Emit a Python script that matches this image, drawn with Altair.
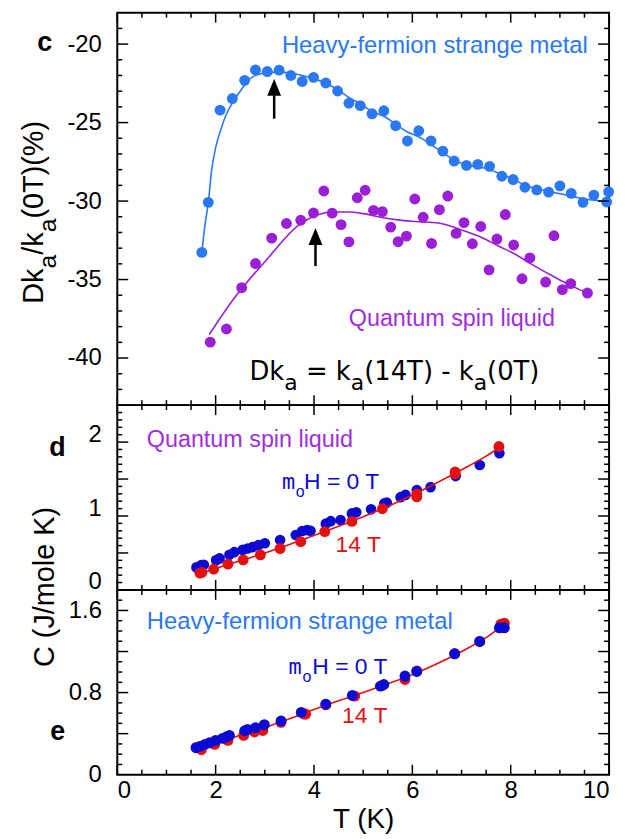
import altair as alt
import pandas as pd

FONT = "Liberation Sans"
WIDE = "DejaVu Sans"
MONO = "DejaVu Sans Mono"

# ---------------- data ----------------
# panel c : heavy-fermion strange metal (points)
c_hf_x = [1.72, 1.85, 2.09, 2.34, 2.59, 2.81, 3.05, 3.29, 3.53, 3.76, 3.99, 4.24, 4.48, 4.71, 4.94, 5.18,
          5.42, 5.66, 5.90, 6.13, 6.38, 6.62, 6.85, 7.10, 7.33, 7.57, 7.82, 8.05, 8.29, 8.53, 8.77, 9.00,
          9.23, 9.47, 9.69, 9.95, 9.99]
c_hf_y = [-33.27, -30.08, -24.21, -23.47, -22.31, -21.64, -21.75, -21.66, -22.0, -22.38, -22.12, -22.48,
          -22.99, -23.77, -23.92, -24.44, -24.25, -25.2, -26.17, -25.52, -26.17, -26.82, -27.45, -27.73,
          -27.66, -27.79, -28.42, -28.63, -29.12, -29.29, -29.43, -29.03, -29.51, -30.08, -29.62, -30.06,
          -29.41]
# panel c : heavy-fermion smooth curve
c_hf_line_x = [1.72, 1.78, 1.85, 1.92, 2.0, 2.1, 2.2, 2.35, 2.5, 2.7, 2.9, 3.1, 3.4, 3.7, 4.0, 4.24, 4.48,
               4.71, 4.94, 5.18, 5.42, 5.66, 5.9, 6.13, 6.38, 6.62, 6.85, 7.1, 7.46, 7.82, 8.05, 8.29, 8.53,
               8.8, 9.1, 9.4, 9.7, 9.95]
c_hf_line_y = [-33.3, -31.6, -30.1, -28.0, -26.6, -25.5, -24.6, -23.7, -23.0, -22.2, -21.9, -21.8, -21.8,
               -21.95, -22.2, -22.5, -22.9, -23.4, -23.8, -24.3, -24.6, -25.1, -25.6, -25.9, -26.4, -26.9,
               -27.4, -27.7, -27.9, -28.3, -28.6, -29.0, -29.2, -29.4, -29.6, -29.8, -29.95, -30.0]
# panel c : quantum spin liquid (points)
c_qsl_x = [1.89, 2.22, 2.53, 2.81, 3.14, 3.44, 3.73, 3.99, 4.20, 4.37, 4.55, 4.71, 4.88, 5.04, 5.21, 5.39,
           5.56, 5.71, 5.88, 6.05, 6.22, 6.39, 6.55, 6.72, 6.89, 7.05, 7.22, 7.39, 7.56, 7.72, 7.89, 8.06,
           8.23, 8.39, 8.71, 8.88, 9.05, 9.22, 9.56]
c_qsl_y = [-38.99, -38.15, -35.52, -33.98, -32.36, -31.43, -31.22, -30.76, -29.36, -30.77, -31.5, -32.6,
           -29.79, -29.31, -30.59, -30.67, -31.66, -32.59, -32.23, -29.87, -31.03, -32.7, -30.55, -29.68,
           -32.06, -31.37, -32.72, -31.62, -34.38, -32.42, -30.86, -32.8, -34.95, -33.62, -35.16, -32.21,
           -35.64, -35.26, -35.86]
c_qsl_line_x = [1.87, 2.35, 3.02, 3.7, 4.1, 4.37, 4.71, 5.0, 5.38, 5.7, 6.05, 6.53, 7.06, 7.4, 7.74, 8.1,
                8.41, 8.75, 9.08, 9.3, 9.56]
c_qsl_line_y = [-38.5, -36.3, -33.8, -31.5, -30.85, -30.7, -30.7, -30.8, -31.05, -31.2, -31.3, -31.4,
                -31.9, -32.3, -32.85, -33.4, -34.0, -34.6, -35.16, -35.5, -35.86]
# arrows in panel c
arrow_x = [3.19, 4.03]
arrow_tip = [-22.22, -31.72]
arrow_base = [-23.27, -32.66]
arrow_tail = [-24.75, -34.14]

# panel d : quantum spin liquid specific heat
d_0T_x = [1.61, 1.71, 1.76, 2.01, 2.08, 2.28, 2.38, 2.55, 2.65, 2.75, 2.87, 3.0, 3.31, 3.63, 3.76, 3.86,
          3.93, 4.24, 4.34, 4.54, 4.77, 4.86, 5.16, 5.43, 5.48, 5.76, 5.86, 6.09, 6.37, 6.88, 7.37, 7.77]
d_0T_y = [0.305, 0.336, 0.34, 0.403, 0.426, 0.475, 0.511, 0.542, 0.56, 0.578, 0.605, 0.632, 0.676, 0.743,
          0.797, 0.81, 0.80, 0.896, 0.93, 0.945, 1.035, 1.05, 1.09, 1.17, 1.18, 1.255, 1.286, 1.35, 1.39,
          1.54, 1.69, 1.85]
d_14T_x = [1.68, 1.72, 1.96, 2.25, 2.56, 2.91, 3.31, 3.73, 4.22, 4.77, 5.39, 6.09, 6.09, 6.87, 6.87, 7.76]
d_14T_y = [0.228, 0.237, 0.282, 0.349, 0.407, 0.475, 0.56, 0.654, 0.789, 0.927, 1.098, 1.30, 1.26, 1.595,
           1.57, 1.94]
d_line_x = [1.65, 2.0, 2.5, 3.0, 3.5, 4.0, 4.5, 5.0, 5.5, 6.0, 6.5, 7.0, 7.5, 7.78]
d_line_y = [0.215, 0.29, 0.395, 0.5, 0.615, 0.735, 0.86, 0.99, 1.13, 1.285, 1.45, 1.625, 1.81, 1.93]

# panel e : heavy-fermion strange metal specific heat
e_0T_x = [1.60, 1.68, 1.78, 1.88, 2.0, 2.14, 2.22, 2.28, 2.59, 2.65, 2.81, 2.99, 3.33, 3.74, 4.24, 4.78,
          5.35, 5.42, 5.85, 6.09, 6.86, 7.37, 7.77, 7.87]
e_0T_y = [0.263, 0.276, 0.295, 0.312, 0.334, 0.354, 0.37, 0.383, 0.428, 0.441, 0.458, 0.487, 0.523, 0.607,
          0.688, 0.772, 0.863, 0.879, 0.961, 1.006, 1.178, 1.298, 1.431, 1.431]
e_14T_x = [1.71, 1.98, 2.25, 2.57, 2.79, 2.96, 3.33, 3.80, 3.83, 4.24, 4.83, 5.39, 5.85, 6.09, 6.86, 7.37,
           7.80, 7.87]
e_14T_y = [0.243, 0.295, 0.334, 0.383, 0.416, 0.431, 0.51, 0.591, 0.591, 0.68, 0.766, 0.87, 0.928, 1.01,
           1.18, 1.298, 1.467, 1.476]
e_line_x = [1.62, 2.0, 2.5, 3.0, 3.5, 4.0, 4.5, 5.0, 5.5, 6.0, 6.5, 7.0, 7.5, 7.85]
e_line_y = [0.255, 0.31, 0.385, 0.46, 0.545, 0.635, 0.72, 0.80, 0.885, 0.975, 1.08, 1.2, 1.335, 1.46]

# axis ticks / labels
x_major = [0, 2, 4, 6, 8, 10]
x_minor = [0.5, 1, 1.5, 2.5, 3, 3.5, 4.5, 5, 5.5, 6.5, 7, 7.5, 8.5, 9, 9.5]
c_labels = [-40, -35, -30, -25, -20]
c_minor = [-42, -41, -39, -38, -37, -36, -34, -33, -32, -31, -29, -28, -27, -26, -24, -23, -22, -21, -19]
d_labels = [0, 1, 2]
d_major = [0.5, 1, 1.5, 2]
d_minor = [0.1, 0.2, 0.3, 0.4, 0.6, 0.7, 0.8, 0.9, 1.1, 1.2, 1.3, 1.4, 1.6, 1.7, 1.8, 1.9, 2.1, 2.2, 2.3, 2.4]
e_labels = [0, 0.8, 1.6]
e_major = [0.4, 0.8, 1.2, 1.6]
e_minor = [0.1, 0.2, 0.3, 0.5, 0.6, 0.7, 0.9, 1.0, 1.1, 1.3, 1.4, 1.5, 1.7]

# ---------------- styling ----------------
W = 495
HC, HD, HE = 395, 186, 186
X_DOM = [0, 10]
C_DOM = [-43, -18]
D_DOM = [0, 2.5]
E_DOM = [0, 1.8]

BLUE_C = "#2a78f4"
PURPLE = "#9a1fd6"
PURPLE_T = "#a02ee0"
DBLUE = "#0a0ad2"
RED = "#e2100f"
LAB = 24

one = pd.DataFrame({"k": [0]})

NO_AXIS = alt.Axis(labels=False, ticks=False, domain=False, grid=False, title=None)


def xs():
    return alt.Scale(domain=X_DOM, nice=False, zero=False)


def ys(dom):
    return alt.Scale(domain=dom, nice=False, zero=False)


def label(text, x, y, size, color="black", font=FONT, weight="normal", align="left", angle=0,
          baseline="alphabetic"):
    kw = dict(text=text, font=font, fontSize=size, color=color, fontWeight=weight, align=align,
              baseline=baseline)
    if angle:
        kw["angle"] = angle
    return alt.Chart(one).mark_text(**kw).encode(x=alt.value(x), y=alt.value(y))


def tick_layers(h, ymajor, yminor, dom, xax, yax):
    out = []
    for vals, L in ((x_major, 10), (x_minor, 5)):
        base = alt.Chart(pd.DataFrame({"v": vals})).mark_rule(color="black", strokeWidth=1.5).encode(
            x=alt.X("v:Q", scale=xs(), axis=xax))
        out.append(base.encode(y=alt.value(0), y2=alt.value(L)))
        out.append(base.encode(y=alt.value(h), y2=alt.value(h - L)))
    for vals, L in ((ymajor, 11), (yminor, 5)):
        base = alt.Chart(pd.DataFrame({"v": vals})).mark_rule(color="black", strokeWidth=1.5).encode(
            y=alt.Y("v:Q", scale=ys(dom), axis=yax))
        out.append(base.encode(x=alt.value(0), x2=alt.value(L)))
        out.append(base.encode(x=alt.value(W), x2=alt.value(W - L)))
    return out


def pts(xv, yv, dom, color, size, xax, yax):
    return alt.Chart(pd.DataFrame({"x": xv, "y": yv})).mark_circle(size=size, color=color, opacity=1).encode(
        x=alt.X("x:Q", scale=xs(), axis=xax),
        y=alt.Y("y:Q", scale=ys(dom), axis=yax))


def curve(xv, yv, dom, color, xax, yax):
    return alt.Chart(pd.DataFrame({"x": xv, "y": yv})).mark_line(
        color=color, strokeWidth=1.6, interpolate="monotone").encode(
        x=alt.X("x:Q", scale=xs(), axis=xax),
        y=alt.Y("y:Q", scale=ys(dom), axis=yax))


def yaxis(vals, offset=0):
    return alt.Axis(values=vals, labelExpr="datum.value + ''", ticks=False, tickSize=0, domain=False,
                    grid=False, labelFontSize=LAB, labelPadding=16, labelOffset=offset, title=None,
                    labelFont=FONT, labelColor="black")


# ---------------- panel c ----------------
cy = yaxis(c_labels)
arrows = pd.DataFrame({"x": arrow_x, "tip": arrow_tip, "base": arrow_base, "tail": arrow_tail})
shaft = alt.Chart(arrows).mark_rule(color="black", strokeWidth=2.5).encode(
    x=alt.X("x:Q", scale=xs(), axis=NO_AXIS),
    y=alt.Y("tail:Q", scale=ys(C_DOM), axis=cy), y2="base:Q")
head = alt.Chart(arrows).mark_point(shape="M0,0L0.82,2L-0.82,2Z", filled=True, size=289, color="black",
                                    opacity=1, strokeWidth=0).encode(
    x=alt.X("x:Q", scale=xs(), axis=NO_AXIS),
    y=alt.Y("tip:Q", scale=ys(C_DOM), axis=cy))

c_layers = [
    curve(c_hf_line_x, c_hf_line_y, C_DOM, BLUE_C, NO_AXIS, cy),
    curve(c_qsl_line_x, c_qsl_line_y, C_DOM, PURPLE, NO_AXIS, cy),
    pts(c_hf_x, c_hf_y, C_DOM, BLUE_C, 120, NO_AXIS, cy),
    pts(c_qsl_x, c_qsl_y, C_DOM, PURPLE, 120, NO_AXIS, cy),
    shaft, head,
    label("Heavy-fermion strange metal", 165.7, 40.3, 24, BLUE_C),
    label("Quantum spin liquid", 233, 315.1, 23.5, PURPLE_T),
    # Dk_a = k_a(14T) - k_a(0T)
    label("Dk", 133, 370, 26, font=WIDE),
    label("a", 168.1, 380, 22, font=WIDE),
    label("= k", 189.9, 370, 26, font=WIDE),
    label("a", 235.0, 380, 22, font=WIDE),
    label("(14T) - k", 248.5, 370, 26, font=WIDE),
    label("a", 358.7, 380, 22, font=WIDE),
    label("(0T)", 372.2, 370, 26, font=WIDE),
    label("c", -73, 38.7, 27, weight="bold", align="center"),
    # y title  Dk_a/k_a(0T)(%)
    label("Dk", -75, 293, 29, angle=270),
    label("a", -62, 257.6, 25, angle=270),
    label("/k", -75, 243.7, 29, angle=270),
    label("a", -62, 221.1, 25, angle=270),
    label("(0T)(%)", -75, 207.2, 29, angle=270),
] + tick_layers(HC, c_labels, c_minor, C_DOM, NO_AXIS, cy)
panel_c = alt.layer(*c_layers).properties(width=W, height=HC)

# ---------------- panel d ----------------
dy = yaxis(d_labels, -8)
d_layers = [
    pts(d_0T_x, d_0T_y, D_DOM, DBLUE, 115, NO_AXIS, dy),
    curve(d_line_x, d_line_y, D_DOM, RED, NO_AXIS, dy),
    pts(d_14T_x, d_14T_y, D_DOM, RED, 120, NO_AXIS, dy),
    label("Quantum spin liquid", 29.7, 41.7, 23.5, PURPLE_T),
    label("m", 165.7, 84.9, 22, DBLUE, font=MONO),
    label("o", 179.7, 92.5, 16, DBLUE),
    label("H = 0 T", 188, 84.9, 23, DBLUE),
    label("14 T", 219.7, 148.2, 23, RED),
    label("d", -60.3, 51.6, 27, weight="bold", align="center"),
] + tick_layers(HD, d_major, d_minor, D_DOM, NO_AXIS, dy)
panel_d = alt.layer(*d_layers).properties(width=W, height=HD)

# ---------------- panel e ----------------
ey = alt.Axis(values=e_labels, labelExpr="datum.value + ''", ticks=False, tickSize=0, domain=False,
              grid=False, labelFontSize=LAB, labelPadding=16, labelFont=FONT, labelColor="black",
              title="C (J/mole K)", titleFont=FONT, titleColor="black", titleFontSize=29,
              titleFontWeight="normal", titleAngle=270, titleX=-64, titleY=-3.5, titleAlign="center",
              titleBaseline="alphabetic")
ex = alt.Axis(values=x_major, labelExpr="datum.value + ''", ticks=False, tickSize=0, domain=False,
              grid=False, labelFontSize=LAB, labelPadding=4, labelFont=FONT, labelColor="black",
              title="T (K)", titleFont=FONT, titleColor="black", titleFontSize=28,
              titleFontWeight="normal", titleY=53, titleBaseline="alphabetic")
e_layers = [
    pts(e_14T_x, e_14T_y, E_DOM, RED, 120, ex, ey),
    curve(e_line_x, e_line_y, E_DOM, RED, ex, ey),
    pts(e_0T_x, e_0T_y, E_DOM, DBLUE, 120, ex, ey),
    label("Heavy-fermion strange metal", 29.7, 39.3, 24, BLUE_C),
    label("m", 172.3, 84.5, 22, DBLUE, font=MONO),
    label("o", 186.3, 93, 16, DBLUE),
    label("H = 0 T", 196.3, 84.5, 23, DBLUE),
    label("14 T", 226.3, 133.9, 23, RED),
    label("e", -60, 151, 27, weight="bold", align="center"),
] + tick_layers(HE, e_major, e_minor, E_DOM, ex, ey)
panel_e = alt.layer(*e_layers).properties(width=W, height=HE)

chart = alt.vconcat(panel_c, panel_d, panel_e, spacing=0, bounds="flush").properties(
    padding={"left": 11, "top": 0, "right": 5, "bottom": 5}
).configure_view(stroke="black", strokeWidth=2)

chart.save("out.html", embed_options={"renderer": "svg", "actions": False})
